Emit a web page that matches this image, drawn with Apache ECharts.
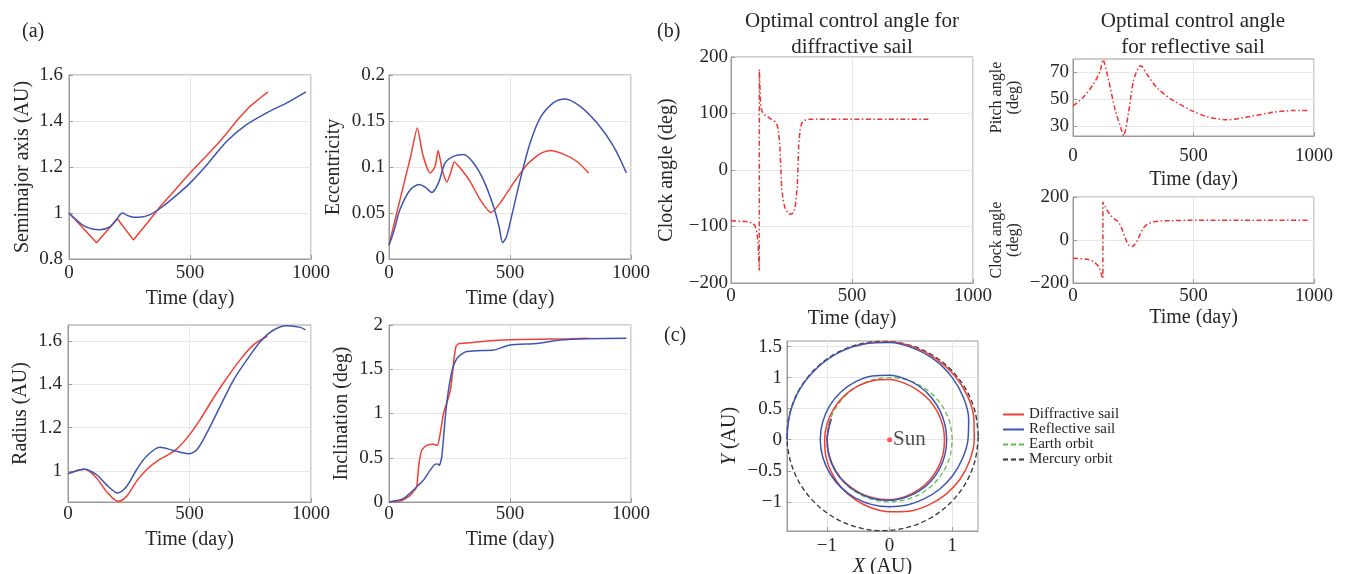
<!DOCTYPE html>
<html><head><meta charset="utf-8">
<script src="https://cdn.jsdelivr.net/npm/echarts@6/dist/echarts.min.js"></script>
<style>html,body{margin:0;padding:0;background:#fff}#c{width:1347px;height:574px}</style>
</head><body><div id="c"></div>
<script>
// ---------- (a) Semimajor axis ----------
const smaRedT = [0, 114, 200, 266, 320, 377, 440, 500, 560, 611, 650, 700, 749, 790, 822];
const smaRed  = [1.0, 0.871, 0.975, 0.883, 0.952, 1.028, 1.102, 1.174, 1.24, 1.297, 1.345, 1.41, 1.465, 1.5, 1.527];
const smaBlueT = [0, 30, 60, 100, 128, 170, 197, 212, 222, 240, 266, 300, 335, 383, 446, 500, 570, 652, 735, 818, 900, 979];
const smaBlue  = [1.0, 0.97, 0.945, 0.929, 0.927, 0.941, 0.973, 0.994, 1.0, 0.99, 0.982, 0.983, 0.993, 1.025, 1.079, 1.13, 1.21, 1.312, 1.385, 1.436, 1.479, 1.527];
// ---------- (a) Eccentricity ----------
const eccRedT = [0, 30, 60, 90, 117, 140, 170, 190, 203, 220, 239, 255, 270, 300, 335, 377, 421, 459, 514, 570, 625, 666, 721, 777, 825];
const eccRed  = [0.015, 0.048, 0.08, 0.112, 0.1425, 0.113, 0.0935, 0.1, 0.118, 0.097, 0.0836, 0.094, 0.1055, 0.097, 0.0844, 0.0644, 0.0505, 0.0607, 0.0825, 0.1025, 0.1145, 0.118, 0.114, 0.106, 0.0935];
const eccBlueT = [0, 20, 45, 87, 125, 150, 177, 204, 232, 266, 308, 349, 390, 432, 455, 470, 485, 500, 542, 583, 625, 680, 728, 790, 859, 928, 981];
const eccBlue  = [0.015, 0.03, 0.0535, 0.075, 0.081, 0.078, 0.0724, 0.0825, 0.1044, 0.1116, 0.1135, 0.1044, 0.086, 0.057, 0.035, 0.0178, 0.024, 0.039, 0.086, 0.126, 0.1535, 0.17, 0.174, 0.166, 0.148, 0.1225, 0.0935];
// ---------- (a) Radius ----------
const radRedT = [0, 69, 117, 158, 206, 241, 282, 323, 365, 406, 447, 495, 543, 598, 653, 708, 763, 820];
const radRed  = [0.988, 1.008, 0.968, 0.906, 0.86, 0.883, 0.952, 1.006, 1.045, 1.071, 1.101, 1.16, 1.236, 1.336, 1.428, 1.513, 1.582, 1.622];
const radBlueT = [0, 69, 117, 158, 203, 241, 282, 323, 378, 433, 495, 530, 571, 626, 681, 736, 791, 846, 901, 956, 977];
const radBlue  = [0.988, 1.008, 0.983, 0.937, 0.899, 0.929, 1.006, 1.068, 1.11, 1.095, 1.08, 1.098, 1.175, 1.298, 1.42, 1.513, 1.597, 1.651, 1.671, 1.663, 1.651];
// ---------- (a) Inclination ----------
const incRedT = [0, 46, 87, 114, 119, 124, 135, 156, 183, 200, 208, 218, 225, 240, 255, 268, 277, 290, 335, 404, 473, 611, 749, 825];
const incRed  = [0, 0.011, 0.075, 0.17, 0.3, 0.434, 0.585, 0.64, 0.653, 0.64, 0.72, 0.88, 1.0, 1.13, 1.28, 1.6, 1.76, 1.79, 1.80, 1.82, 1.83, 1.84, 1.845, 1.85];
const incBlueT = [0, 59, 114, 142, 170, 190, 200, 208, 218, 228, 234, 245, 262, 280, 300, 321, 363, 432, 501, 611, 708, 818, 981];
const incBlue  = [0, 0.038, 0.17, 0.245, 0.36, 0.426, 0.43, 0.415, 0.51, 0.81, 1.0, 1.25, 1.5, 1.62, 1.67, 1.70, 1.71, 1.717, 1.774, 1.79, 1.83, 1.845, 1.85];
// ---------- (b) Control angles ----------
const diffClockT = [0, 60, 91, 100, 107, 112, 117, 117, 120, 123, 130, 140, 160, 182, 190, 196, 202, 209, 216, 223, 237, 250, 260, 267, 274, 280, 286, 292, 305, 326, 400, 600, 821];
const diffClock  = [-90, -91, -94, -100, -110, -130, -178, 178, 140, 112, 102, 97, 92, 85.5, 80, 71, 41, -29.5, -55, -67, -78, -78, -75, -60, -29.5, 47, 72, 83, 88, 90, 90, 90, 90];
const pitchT = [0, 44, 86, 113, 124, 148, 175, 203, 210, 230, 251, 272, 281, 306, 348, 403, 486, 554, 637, 734, 830, 913, 982];
const pitch  = [44.9, 51.7, 61.5, 71.2, 79.5, 64, 42, 26, 22.6, 39.5, 64, 73.7, 75, 68.8, 58.5, 50.5, 42, 37, 34.6, 37, 40.2, 41.5, 41.5];
const reflClockT = [0, 58, 86, 106, 115, 120, 124, 124, 128, 134, 155, 175, 189, 200, 210, 220, 230, 248, 265, 280, 292, 310, 334, 375, 486, 982];
const reflClock  = [-84.6, -89, -100, -123, -145, -169, -180, 177, 165, 154, 115, 95, 85, 60, 31, 0, -23, -31, -8, 30, 57, 75, 85, 89, 92, 92];
// ---------- (c) Orbits (AU) ----------
const earthX = [1, 0.966, 0.866, 0.707, 0.5, 0.259, 0, -0.259, -0.5, -0.707, -0.866, -0.966, -1, -0.966, -0.866, -0.707, -0.5, -0.259, 0, 0.259, 0.5, 0.707, 0.866, 0.966, 1];
const earthY = [0, 0.259, 0.5, 0.707, 0.866, 0.966, 1, 0.966, 0.866, 0.707, 0.5, 0.259, 0, -0.259, -0.5, -0.707, -0.866, -0.966, -1, -0.966, -0.866, -0.707, -0.5, -0.259, 0];
const marsX = [1.415, 1.363, 1.211, 0.968, 0.653, 0.285, -0.11, -0.505, -0.873, -1.188, -1.431, -1.583, -1.635, -1.583, -1.431, -1.188, -0.873, -0.505, -0.11, 0.285, 0.653, 0.968, 1.211, 1.363, 1.415];
const marsY = [0.06, 0.455, 0.823, 1.138, 1.381, 1.533, 1.585, 1.533, 1.381, 1.138, 0.823, 0.455, 0.06, -0.335, -0.703, -1.018, -1.261, -1.413, -1.465, -1.413, -1.261, -1.018, -0.703, -0.335, 0.06];
const diffOrbX = [-0.931, -0.995, -0.961, -0.862, -0.699, -0.49, -0.252, 0, 0.246, 0.465, 0.645, 0.775, 0.853, 0.875, 0.848, 0.766, 0.635, 0.458, 0.243, 0, -0.256, -0.5, -0.714, -0.883, -0.993, -1.035, -1.014, -0.922, -0.769, -0.555, -0.294, 0, 0.308, 0.61, 0.887, 1.117, 1.275, 1.35, 1.343, 1.238, 1.036, 0.75, 0.399, 0, -0.277, -0.547];
const diffOrbY = [0.339, 0, -0.258, -0.498, -0.699, -0.849, -0.94, -0.965, -0.916, -0.805, -0.645, -0.448, -0.229, 0, 0.227, 0.443, 0.635, 0.792, 0.908, 0.97, 0.953, 0.866, 0.714, 0.51, 0.266, 0, -0.272, -0.533, -0.769, -0.961, -1.096, -1.16, -1.15, -1.057, -0.887, -0.645, -0.342, 0, 0.36, 0.715, 1.036, 1.299, 1.488, 1.575, 1.566, 1.504];
const reflOrbX = [-0.931, -0.995, -0.964, -0.866, -0.704, -0.495, -0.255, 0, 0.249, 0.475, 0.663, 0.801, 0.884, 0.91, 0.884, 0.805, 0.673, 0.49, 0.262, 0, -0.275, -0.54, -0.772, -0.953, -1.066, -1.105, -1.063, -0.948, -0.771, -0.543, -0.28, 0, 0.282, 0.55, 0.797, 1.005, 1.159, 1.25, 1.261, 1.178, 1.0, 0.735, 0.394, 0, -0.413, -0.81, -1.156, -1.425, -1.587, -1.635];
const reflOrbY = [0.339, 0, -0.258, -0.5, -0.704, -0.857, -0.95, -0.975, -0.93, -0.823, -0.663, -0.463, -0.237, 0, 0.237, 0.465, 0.673, 0.849, 0.976, 1.04, 1.026, 0.935, 0.772, 0.55, 0.286, 0, -0.285, -0.548, -0.771, -0.94, -1.045, -1.08, -1.051, -0.953, -0.797, -0.58, -0.311, 0, 0.338, 0.68, 1.0, 1.273, 1.468, 1.565, 1.541, 1.403, 1.156, 0.823, 0.426, 0];
const sunPos = [[0, 0]];

const zip = (a, b) => a.map((v, i) => [v, b[i]]);
const FONT = 'Liberation Serif';
const TXT = '#262626';
const RED = '#ef4136', BLUE = '#3e55b0', DRED = '#f23030';
const fmt = v => String(+(+v).toFixed(4)).replace('-', '\u2212');

const grids = [
  {left: 69, top: 75, width: 242, height: 184},
  {left: 389, top: 75, width: 242, height: 184},
  {left: 68, top: 325, width: 243, height: 177},
  {left: 389, top: 325, width: 242, height: 177},
  {left: 731, top: 57, width: 242, height: 226},
  {left: 1073, top: 59, width: 241, height: 77},
  {left: 1073, top: 197, width: 241, height: 86},
  {left: 787, top: 341, width: 191, height: 190}
].map(g => Object.assign({show: true, borderColor: '#9a9a9a', borderWidth: 1, containLabel: false, outerBoundsMode: 'none'}, g));

function axisBase(gi, o) {
  const a = {
    type: 'value', gridIndex: gi, min: o.min, max: o.max,
    axisLine: {show: true, onZero: false, lineStyle: {color: '#9a9a9a'}},
    axisTick: {show: true, inside: true, length: 4, lineStyle: {color: '#9a9a9a'}},
    axisLabel: {fontFamily: FONT, fontSize: 19, color: TXT, margin: o.lm, formatter: fmt},
    splitLine: {show: true, lineStyle: {color: '#e6e6e6'}},
    name: o.name, nameLocation: 'middle', nameGap: o.ng,
    nameTextStyle: Object.assign({fontFamily: FONT, fontSize: 20, color: TXT}, o.nts || {})
  };
  if (o.interval !== undefined) a.interval = o.interval;
  if (o.custom) { a.axisTick.customValues = o.custom; a.axisLabel.customValues = o.custom; }
  return a;
}
const timeX = (gi, lm, ng) => axisBase(gi, {min: 0, max: 1000, interval: 500, lm, ng, name: 'Time (day)'});

const xAxis = [
  timeX(0, 5, 30), timeX(1, 5, 30), timeX(2, 3, 28), timeX(3, 3, 28),
  timeX(4, 4, 26), timeX(5, 11, 34), timeX(6, 4, 25),
  axisBase(7, {min: -1.635, max: 1.41, custom: [-1, 0, 1], lm: 6, ng: 25, name: '{i|X} (AU)',
    nts: {rich: {i: {fontStyle: 'italic', fontFamily: FONT, fontSize: 20, color: TXT}}}})
];
const small = {fontSize: 16, lineHeight: 17};
const yAxis = [
  axisBase(0, {min: 0.8, max: 1.6, interval: 0.2, lm: 6, ng: 36, name: 'Semimajor axis (AU)'}),
  axisBase(1, {min: 0, max: 0.2, interval: 0.05, lm: 4, ng: 45, name: 'Eccentricity'}),
  axisBase(2, {min: 0.857, max: 1.674, custom: [1, 1.2, 1.4, 1.6], lm: 6, ng: 37, name: 'Radius (AU)'}),
  axisBase(3, {min: 0, max: 2, interval: 0.5, lm: 6, ng: 37, name: 'Inclination (deg)'}),
  axisBase(4, {min: -200, max: 200, interval: 100, lm: 3, ng: 54, name: 'Clock angle (deg)'}),
  axisBase(5, {min: 22.5, max: 80, custom: [30, 50, 70], lm: 4, ng: 51, name: 'Pitch angle\n(deg)', nts: small}),
  axisBase(6, {min: -200, max: 200, interval: 200, lm: 4, ng: 51, name: 'Clock angle\n(deg)', nts: small}),
  axisBase(7, {min: -1.47, max: 1.59, custom: [-1, -0.5, 0, 0.5, 1, 1.5], lm: 5, ng: 47, name: '{i|Y} (AU)',
    nts: {rich: {i: {fontStyle: 'italic', fontFamily: FONT, fontSize: 20, color: TXT}}}})
];

function line(gi, name, data, color, extra) {
  return Object.assign({
    type: 'line', name, xAxisIndex: gi, yAxisIndex: gi, data, symbol: 'none', showSymbol: false,
    lineStyle: {color, width: 1.5}, itemStyle: {color}, smooth: 0.3, z: 3
  }, extra || {});
}
const dashDot = {lineStyle: {color: DRED, width: 1.5, type: [5, 2.5, 1.5, 2.5]}, smooth: false};

const series = [
  line(0, 'Diffractive sail', zip(smaRedT, smaRed), RED, {smooth: false}),
  line(0, 'Reflective sail', zip(smaBlueT, smaBlue), BLUE),
  line(1, 'Diffractive sail', zip(eccRedT, eccRed), RED, {smooth: 0.2}),
  line(1, 'Reflective sail', zip(eccBlueT, eccBlue), BLUE),
  line(2, 'Diffractive sail', zip(radRedT, radRed), RED),
  line(2, 'Reflective sail', zip(radBlueT, radBlue), BLUE),
  line(3, 'Diffractive sail', zip(incRedT, incRed), RED, {smooth: 0.2}),
  line(3, 'Reflective sail', zip(incBlueT, incBlue), BLUE, {smooth: 0.2}),
  line(4, 'diffClock', zip(diffClockT, diffClock), DRED, dashDot),
  line(5, 'pitch', zip(pitchT, pitch), DRED, Object.assign({}, dashDot, {smooth: 0.25})),
  line(6, 'reflClock', zip(reflClockT, reflClock), DRED, dashDot),
  line(7, 'Mercury orbit', zip(marsX, marsY), '#333333', {smooth: 0.34, lineStyle: {color: '#333333', width: 1.3, type: [5, 3]}, z: 2}),
  line(7, 'Earth orbit', zip(earthX, earthY), '#5cbf4f', {smooth: 0.34, lineStyle: {color: '#5cbf4f', width: 1.3, type: [5, 3]}, z: 2}),
  line(7, 'Diffractive sail', zip(diffOrbX, diffOrbY), RED, {smooth: 0.34}),
  line(7, 'Reflective sail', zip(reflOrbX, reflOrbY), BLUE, {smooth: 0.34, z: 4}),
  {type: 'scatter', name: 'Sun', xAxisIndex: 7, yAxisIndex: 7, data: sunPos, symbolSize: 5,
   itemStyle: {color: '#ff3030'}, z: 5,
   label: {show: true, position: 'right', distance: 1, formatter: 'Sun', fontFamily: FONT, fontSize: 21, color: TXT}}
];

const tStyle = {fontFamily: FONT, fontSize: 20, fontWeight: 'normal', color: TXT};
const title = [
  {text: '(a)', left: 22, top: 22, padding: 0, textStyle: tStyle},
  {text: '(b)', left: 657, top: 22, padding: 0, textStyle: tStyle},
  {text: '(c)', left: 664, top: 326, padding: 0, textStyle: tStyle},
  {text: 'Optimal control angle for\ndiffractive sail', left: 852, top: 8, textAlign: 'center', padding: 0,
   textStyle: Object.assign({}, tStyle, {fontSize: 21, lineHeight: 26})},
  {text: 'Optimal control angle\nfor reflective sail', left: 1193, top: 8, textAlign: 'center', padding: 0,
   textStyle: Object.assign({}, tStyle, {fontSize: 21, lineHeight: 26})}
];

const chart = echarts.init(document.getElementById('c'), null, {renderer: 'canvas'});
chart.setOption({
  animation: false,
  backgroundColor: '#fff',
  title,
  grid: grids,
  xAxis, yAxis,
  legend: {
    data: ['Diffractive sail', 'Reflective sail', 'Earth orbit', 'Mercury orbit'],
    orient: 'vertical', left: 1002, top: 407, padding: 0, itemGap: 0, itemWidth: 21, itemHeight: 2,
    selectedMode: false,
    itemStyle: {opacity: 0},
    textStyle: {fontFamily: FONT, fontSize: 15, color: TXT, lineHeight: 15}
  },
  series
});
</script></body></html>
